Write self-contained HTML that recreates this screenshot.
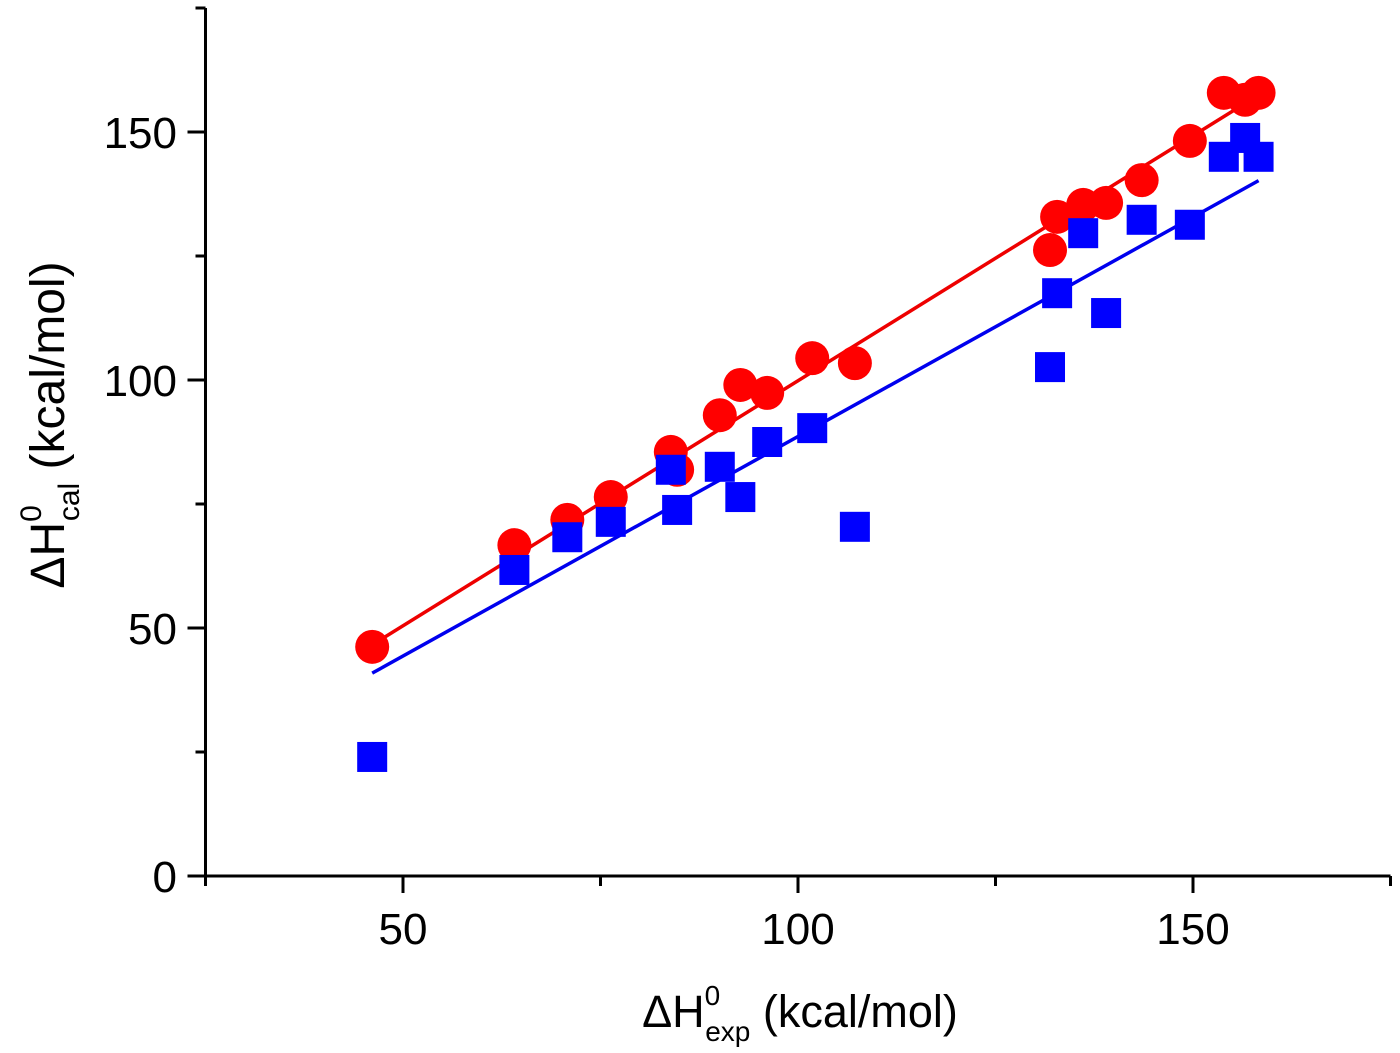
<!DOCTYPE html>
<html><head><meta charset="utf-8"><style>
html,body{margin:0;padding:0;background:#fff;}
svg{display:block;font-family:"Liberation Sans",Arial,sans-serif;}
</style></head><body>
<svg id="chart" width="1400" height="1053" viewBox="0 0 1400 1053" xmlns="http://www.w3.org/2000/svg"></svg>
<script>
const xExp = [46.1,64.1,70.8,76.3,83.9,84.7,90.1,92.7,96.1,101.8,107.2,131.9,132.8,136.1,139.0,143.5,149.6,153.9,156.6,158.3];
const redCal = [46.2,66.7,71.8,76.4,85.5,81.9,92.9,99.0,97.4,104.4,103.4,126.2,132.9,135.3,135.7,140.3,148.2,157.9,156.5,157.9];
const blueCal = [24.0,61.7,68.3,71.4,81.9,73.8,82.5,76.4,87.5,90.3,70.4,102.6,117.5,129.6,113.5,132.3,131.3,145.0,148.8,145.0];
const redFit = [0.988,1.05];
const blueFit = [0.885,0.1];
const fitRange = [46.1,158.3];
const xMajor = [50,100,150];
const xMinor = [25,75,125,175];
const yMajor = [0,50,100,150];
const yMinor = [25,75,125,175];

const svg = document.getElementById('chart');
const NS = 'http://www.w3.org/2000/svg';
const X = v => 403 + (v-50)*7.9;
const Y = v => 876 - v*4.96;
function mk(tag, attrs, parent){const e=document.createElementNS(NS,tag);for(const k in attrs)e.setAttribute(k,attrs[k]);(parent||svg).appendChild(e);return e;}

let ax = mk('line',{x1:X(25),y1:Y(0),x2:X(175),y2:Y(0),stroke:'#000','stroke-width':3});


ax = mk('line',{x1:X(25),y1:Y(0)+8,x2:X(25),y2:Y(175),stroke:'#000','stroke-width':3});



xMajor.forEach(v=>{
  mk('line',{x1:X(v),y1:Y(0),x2:X(v),y2:Y(0)+17,stroke:'#000','stroke-width':3});
  const t = mk('text',{x:X(v),y:944,'font-size':44,'text-anchor':'middle'});
  t.textContent = v;
  
  
});
xMinor.forEach(v=>{ mk('line',{x1:X(v),y1:Y(0),x2:X(v),y2:Y(0)+10,stroke:'#000','stroke-width':3}); });
yMajor.forEach(v=>{
  mk('line',{x1:X(25)-18,y1:Y(v),x2:X(25),y2:Y(v),stroke:'#000','stroke-width':3});
  const t = mk('text',{x:177,y:Y(v)+16,'font-size':44,'text-anchor':'end'});
  t.textContent = v;
  
  
});
yMinor.forEach(v=>{ mk('line',{x1:X(25)-10,y1:Y(v),x2:X(25),y2:Y(v),stroke:'#000','stroke-width':3}); });

[[redFit,'#ee0000','red-fit-line'],[blueFit,'#0000ee','blue-fit-line']].forEach(([f,c,n])=>{
  const l = mk('line',{x1:X(fitRange[0]),y1:Y(f[0]*fitRange[0]+f[1]),x2:X(fitRange[1]),y2:Y(f[0]*fitRange[1]+f[1]),stroke:c,'stroke-width':3.5});
  
  
});

xExp.forEach((x,i)=>{
  const c = mk('circle',{cx:X(x),cy:Y(redCal[i]),r:17,fill:'#ff0000'});
  
  
});
xExp.forEach((x,i)=>{
  const s = mk('rect',{x:X(x)-15,y:Y(blueCal[i])-15,width:30,height:30,fill:'#0000ff'});
  
  
});

const xt = mk('text',{x:800,y:1027,'font-size':45,'text-anchor':'middle'});


xt.innerHTML = 'ΔH<tspan dy="-22" font-size="28">0</tspan><tspan dx="-15" dy="36" font-size="28">exp</tspan><tspan dy="-14"> (kcal/mol)</tspan>';
const yt = mk('text',{x:0,y:0,'font-size':48,'text-anchor':'middle',transform:'translate(64,425) rotate(-90)'});


yt.innerHTML = 'ΔH<tspan dy="-23" font-size="30">0</tspan><tspan dx="-16" dy="38" font-size="30">cal</tspan><tspan dy="-15">   (kcal/mol)</tspan>';
</script>
</body></html>
